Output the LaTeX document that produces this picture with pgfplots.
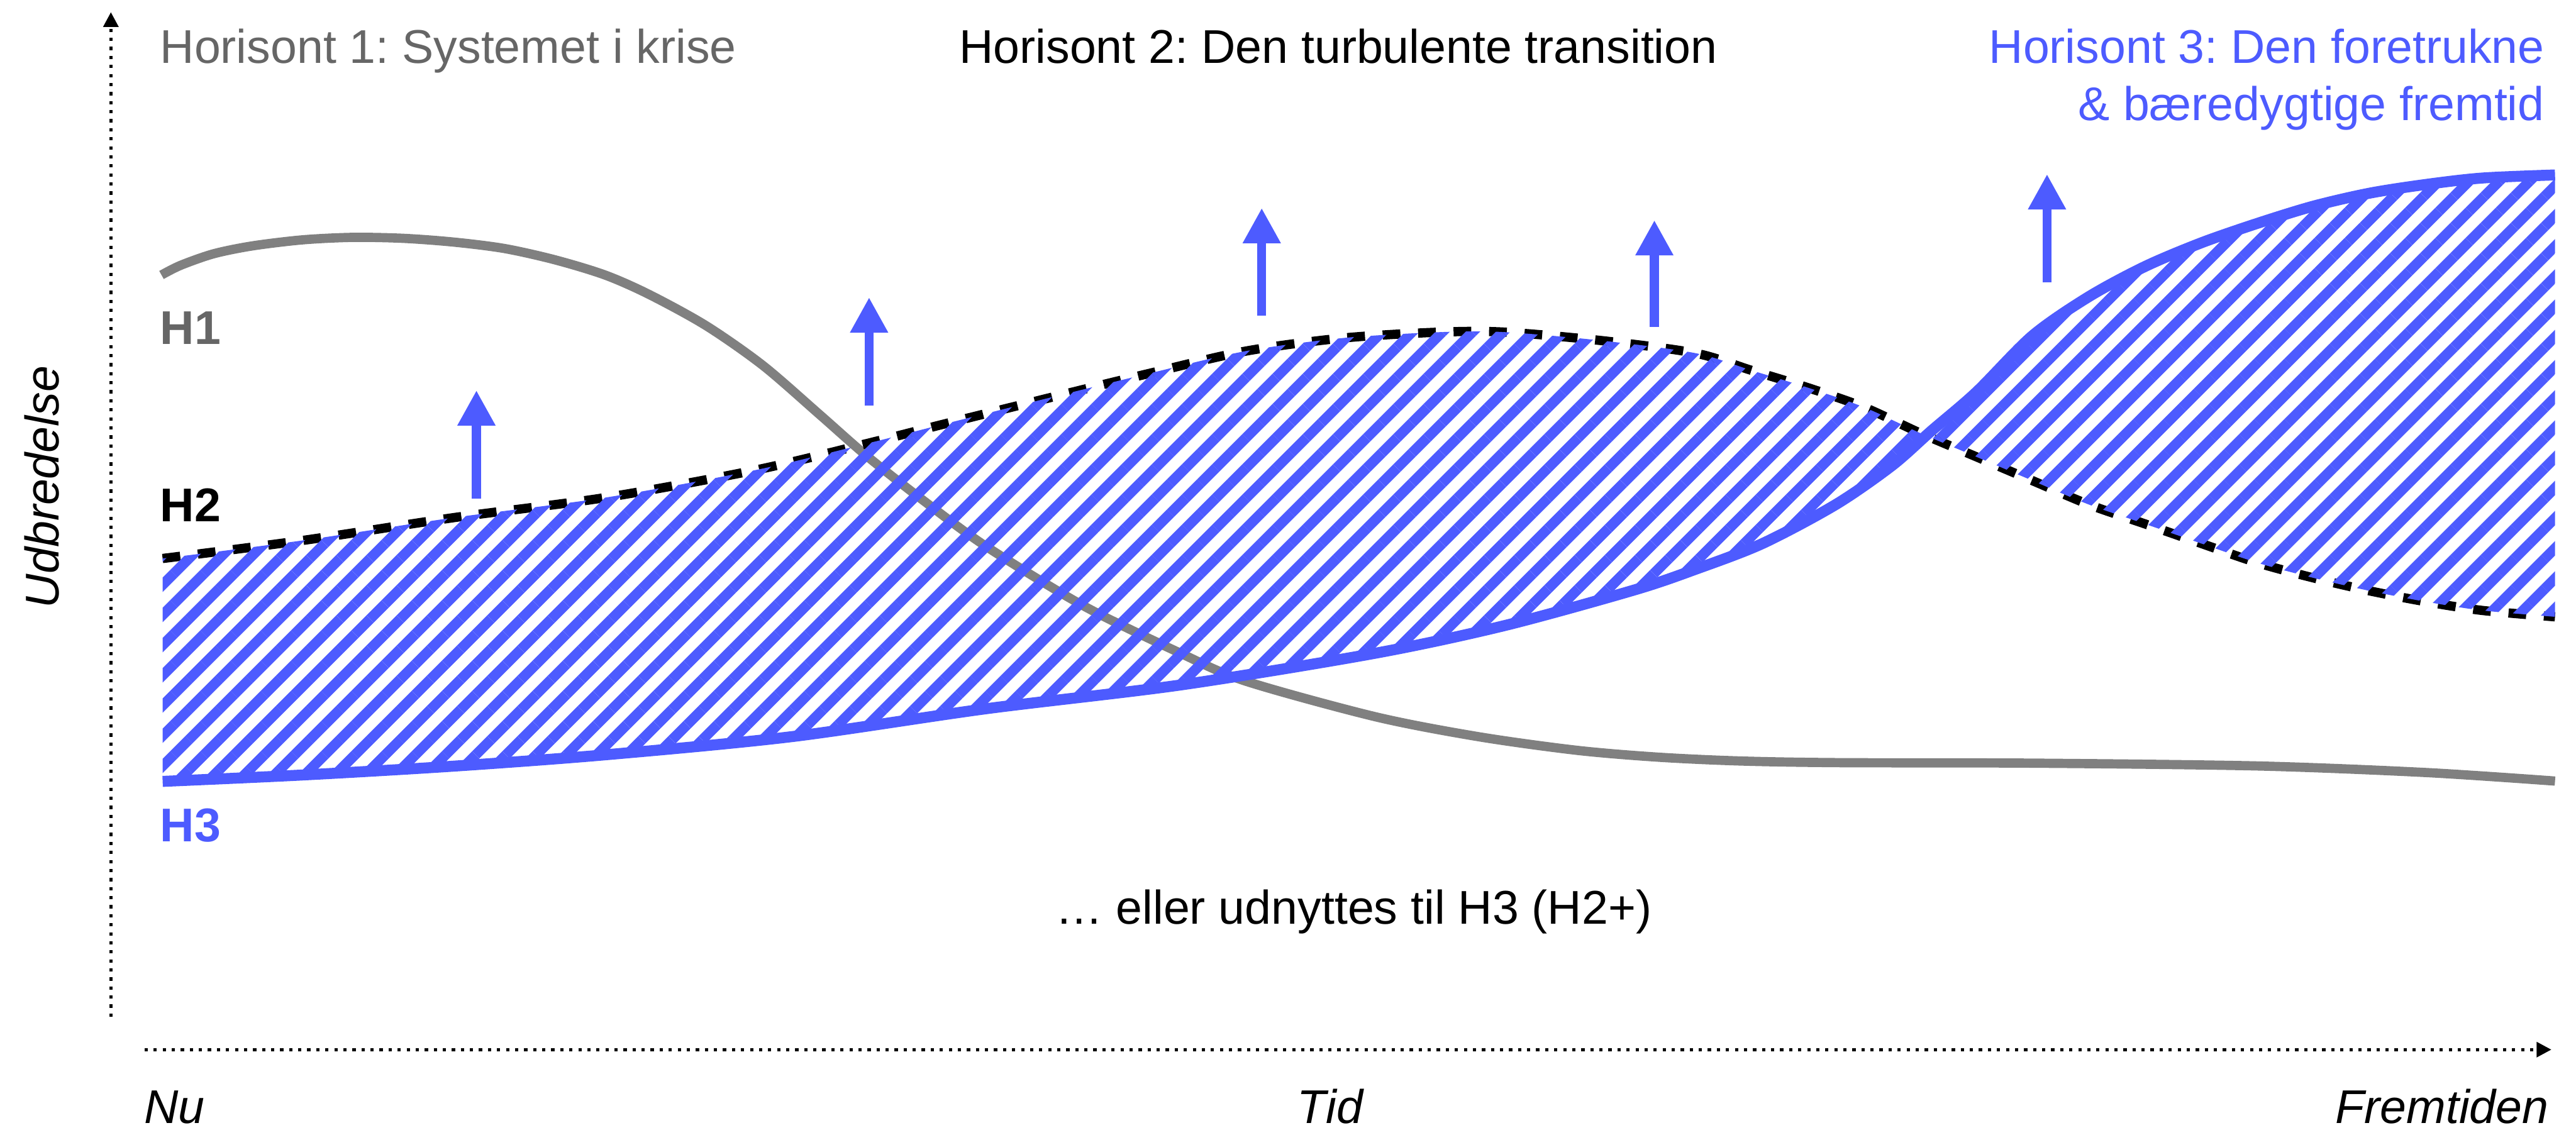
\documentclass[border=0pt]{standalone}
\usepackage{fontspec}
\setmainfont{Liberation Sans}
\usepackage{pgfplots}
\pgfplotsset{compat=1.18}
\usepgfplotslibrary{fillbetween}
\usetikzlibrary{patterns.meta,arrows.meta}
\definecolor{hblue}{RGB}{77,91,255}
\definecolor{hgray}{RGB}{128,128,128}
\definecolor{tgray}{RGB}{102,102,102}
\frenchspacing
\begin{document}
\begin{tikzpicture}
\begin{axis}[width=15.68cm,height=6.94cm,scale only axis,
  xmin=0,xmax=1568,ymin=0,ymax=694,y dir=reverse,hide axis,clip=false]
\path (rel axis cs:0,0) rectangle (rel axis cs:1,1);
% axes
\draw[line width=0.55pt,dash pattern=on 0.2mm off 0.35mm,-{Triangle[width=0.9mm,length=0.9mm]}] (axis cs:67.5,619) -- (axis cs:67.5,7.4);
\draw[line width=0.55pt,dash pattern=on 0.2mm off 0.35mm,-{Triangle[width=0.9mm,length=0.9mm]}] (axis cs:88,639) -- (axis cs:1553,639);
% H1
\addplot[hgray,line width=1.6pt,smooth] coordinates {
(98.3,167.4) (110,161.5) (130,154.5) (153.6,149.7) (184.3,146) (215,144.5) (245.7,145.1) (276.4,147.4) (307.1,151.3) (337.9,158.2) (368.5,167.5) (395.6,179.5) (430,198.4) (464.4,222.5) (498.8,252.3) (527.5,277.5) (560.6,303.6) (600,332.5) (659.3,368.7) (718.6,397.7) (758,414.6) (837,436.3) (900,448.5) (960,456.8) (1010,461) (1060,463.3) (1120,464.3) (1237.1,464.6) (1374,466.3) (1476.5,470.3) (1555.2,475.5)};
% H2
\addplot[name path=H2,black,line width=1.6pt,dash pattern=on 1.08mm off 1.08mm,smooth] coordinates {
(99,340) (184.3,329) (276.4,315.1) (368.6,302.9) (460.7,286) (529,269.7) (576.4,257.7) (639.5,242) (698.8,227.5) (758,213.8) (817.3,205.8) (876.5,202.2) (916,202.2) (975.3,207.4) (1032,215) (1066.2,225.5) (1100.4,236) (1134.6,247.9) (1168.7,263.6) (1203,278.1) (1237.1,292.6) (1271.3,307.1) (1305.5,318.9) (1339.7,330.8) (1374,342.6) (1408.1,351.8) (1442.3,359.7) (1476.5,366.3) (1510.7,371.6) (1555.2,375.5)};
% H3
\addplot[name path=H3,hblue,line width=1.9pt,smooth] coordinates {
(99,475.7) (184.3,471.8) (276.4,466.4) (368.6,459.5) (481.6,448.5) (600,431.5) (718.6,417) (837,397.7) (916,380.8) (995,359.1) (1032,346.6) (1073,330.8) (1117.5,307.1) (1151.7,283.4) (1175.6,262.3) (1203,238.7) (1237.1,204.4) (1271.3,180.7) (1305.5,162.3) (1339.7,147.9) (1374,136) (1408.1,125.5) (1442.3,117.6) (1476.5,112.3) (1510.7,108.4) (1555.2,106.5)};
% hatch
\addplot[draw=none,pattern={Lines[angle=45,distance=1.3mm,line width=0.62mm]},pattern color=hblue] fill between[of=H2 and H3,on layer=main];
% arrows
\addplot[hblue,line width=1.55pt,-{Triangle[width=2.17mm,length=2.15mm]}] coordinates {(290,303.5) (290,237.6)};
\addplot[hblue,line width=1.55pt,-{Triangle[width=2.17mm,length=2.15mm]}] coordinates {(529,247) (529,181)};
\addplot[hblue,line width=1.55pt,-{Triangle[width=2.17mm,length=2.15mm]}] coordinates {(768,192) (768,126.6)};
\addplot[hblue,line width=1.55pt,-{Triangle[width=2.17mm,length=2.15mm]}] coordinates {(1007,199) (1007,134)};
\addplot[hblue,line width=1.55pt,-{Triangle[width=2.17mm,length=2.15mm]}] coordinates {(1246,172) (1246,106)};
% texts
\begin{scope}[every node/.style={inner sep=0pt,font=\fontsize{8.2}{9.8}\selectfont}]
\node[anchor=base west,text=tgray] at (axis cs:96.8,38.4) {Horisont 1: Systemet i krise};
\node[anchor=base,text=black] at (axis cs:814.6,38.4) {Horisont 2: Den turbulente transition};
\node[anchor=base east,text=hblue] at (axis cs:1549.4,38.4) {Horisont 3: Den foretrukne};
\node[anchor=base east,text=hblue] at (axis cs:1549.4,73.4) {\& bæredygtige fremtid};
\node[anchor=base west,text=tgray] at (axis cs:96.8,209.6) {\bfseries H1};
\node[anchor=base west,text=black] at (axis cs:96.8,317.4) {\bfseries H2};
\node[anchor=base west,text=hblue] at (axis cs:96.8,512.5) {\bfseries H3};
\node[anchor=base,rotate=90] at (axis cs:35.6,296.5) {\itshape Udbredelse};
\node[anchor=base west] at (axis cs:87,684) {\itshape Nu};
\node[anchor=base west] at (axis cs:789,684) {\itshape Tid};
\node[anchor=base east] at (axis cs:1552,684) {\itshape Fremtiden};
\node[anchor=base] at (axis cs:824,562.5) {… eller udnyttes til H3 (H2+)};
\end{scope}
\end{axis}
\end{tikzpicture}
\end{document}
